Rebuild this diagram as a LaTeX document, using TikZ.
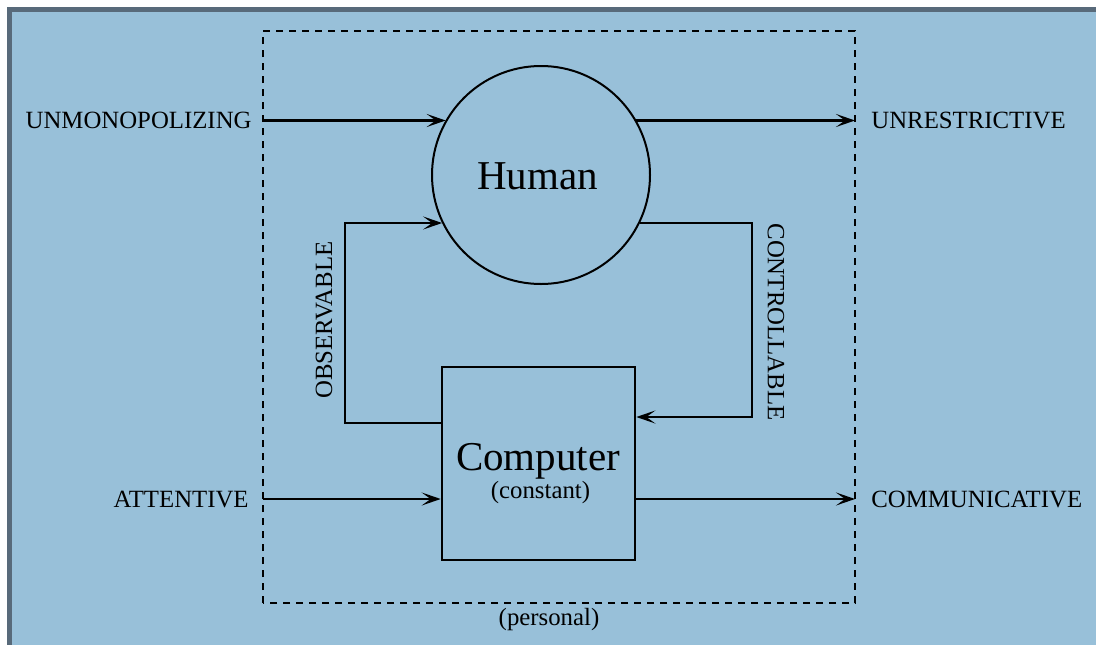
\documentclass[tikz,border=0pt]{standalone}
\usepackage{fontspec}
\setmainfont{Liberation Serif}
\usetikzlibrary{arrows.meta}
\pgfdeclarelayer{background}
\pgfdeclarelayer{edgelayer}
\pgfdeclarelayer{nodelayer}
\pgfsetlayers{background,edgelayer,nodelayer,main}
\definecolor{panel}{RGB}{152,192,217}
\definecolor{frame}{RGB}{88,106,122}
\tikzstyle{agent}=[circle,draw=black,line width=1pt,minimum size=109pt,inner sep=0pt]
\tikzstyle{machine}=[rectangle,draw=black,line width=1.3pt,minimum size=96.5pt,inner sep=0pt]
\tikzstyle{title}=[font=\fontsize{20.5}{24}\selectfont,inner sep=0pt]
\tikzstyle{quality}=[font=\fontsize{12.4}{14}\selectfont,inner sep=0pt]
\tikzstyle{flow}=[-{Stealth[length=9.5pt,width=6.5pt,inset=4.5pt]},draw=black,line width=1.4pt]
\tikzstyle{boundary}=[draw=black,line width=1.2pt,dash pattern=on 3.5pt off 3pt]

\begin{document}
\begin{tikzpicture}[x=5pt,y=5pt]
	\useasboundingbox (0,0) rectangle (109.6,64.5);
	\begin{pgfonlayer}{background}
		\fill [white] (0,0) rectangle (109.6,64.5);
		\fill [frame] (0.7,0) rectangle (109.6,63.8);
		\fill [panel] (1.2,0) rectangle (109.6,63.3);
		\draw [style=boundary] (26.3,4.2) rectangle (85.5,61.4);
	\end{pgfonlayer}
	\begin{pgfonlayer}{nodelayer}
		\node [style=agent] (0) at (54.1, 47.0) {};
		\node [style=machine] (1) at (53.85, 18.15) {};
		\node [style=title, anchor=base] (2) at (53.75, 45.6) {Human};
		\node [style=title, anchor=base] (3) at (53.8, 17.5) {Computer};
		\node [style=quality, anchor=base] (4) at (54.05, 14.7) {(constant)};
		\node [style=quality, anchor=base] (5) at (54.9, 2.0) {(personal)};
		\node [style=quality, anchor=east] (6) at (25.2, 52.45) {UNMONOPOLIZING};
		\node [style=quality, anchor=west] (7) at (87.1, 52.45) {UNRESTRICTIVE};
		\node [style=quality, anchor=east] (8) at (24.9, 14.6) {ATTENTIVE};
		\node [style=quality, anchor=west] (9) at (87.1, 14.6) {COMMUNICATIVE};
		\node [style=quality, rotate=90] (10) at (32.4, 32.5) {OBSERVABLE};
		\node [style=quality, rotate=-90] (11) at (77.6, 32.3) {CONTROLLABLE};
		\coordinate (12) at (26.3, 52.45);
		\coordinate (13) at (85.5, 52.45);
		\coordinate (14) at (26.3, 14.6);
		\coordinate (15) at (85.5, 14.6);
		\coordinate (16) at (34.5, 22.2);
		\coordinate (17) at (34.5, 42.2);
		\coordinate (18) at (75.2, 42.2);
		\coordinate (19) at (75.2, 22.8);
	\end{pgfonlayer}
	\begin{pgfonlayer}{edgelayer}
		\draw [style=flow] (12) to (12 -| 0.150);
		\draw [style=flow] (0.30 |- 13) to (13);
		\draw [style=flow] (14) to (14 -| 1.west);
		\draw [style=flow] (15 -| 1.east) to (15);
		\draw [style=flow] (1.west |- 16) -- (16) -- (17) -- (17 -| 0.206);
		\draw [style=flow] (0.334 |- 18) -- (18) -- (19) -- (19 -| 1.east);
	\end{pgfonlayer}
\end{tikzpicture}
\end{document}
